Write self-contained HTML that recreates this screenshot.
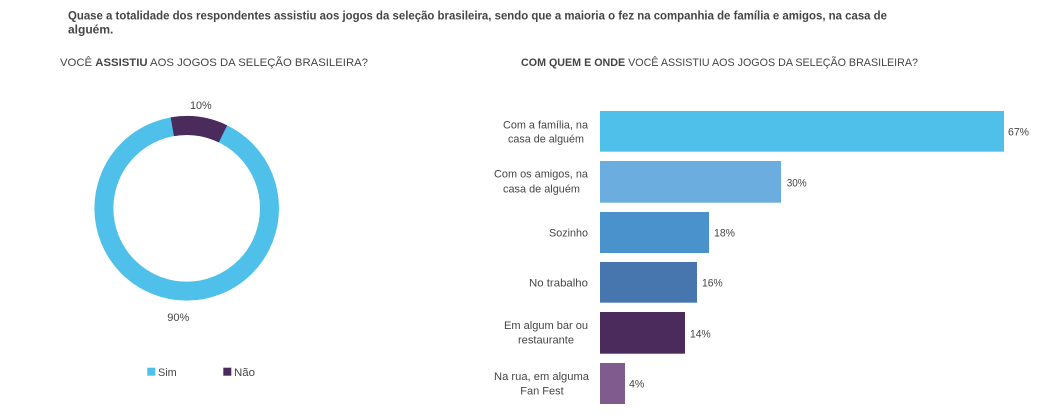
<!DOCTYPE html>
<html>
<head>
<meta charset="utf-8">
<style>
html,body{margin:0;padding:0;background:#fff;}
svg{display:block;}
text{font-family:"Liberation Sans",Arial,sans-serif;fill:#454545;}
</style>
</head>
<body>
<svg width="1045" height="420" viewBox="0 0 1045 420" xmlns="http://www.w3.org/2000/svg">
  <!-- Title -->
  <text x="68" y="19.5" font-size="12" font-weight="bold" fill="#555" textLength="819" lengthAdjust="spacingAndGlyphs">Quase a totalidade dos respondentes assistiu aos jogos da seleção brasileira, sendo que a maioria o fez na companhia de família e amigos, na casa de</text>
  <text x="68" y="33.5" font-size="12" font-weight="bold" fill="#555">alguém.</text>

  <!-- Subtitles -->
  <text x="60" y="66" font-size="11" fill="#555" textLength="308" lengthAdjust="spacingAndGlyphs">VOCÊ <tspan font-weight="bold">ASSISTIU</tspan> AOS JOGOS DA SELEÇÃO BRASILEIRA?</text>
  <text x="521" y="66" font-size="11" fill="#555" textLength="397" lengthAdjust="spacingAndGlyphs"><tspan font-weight="bold">COM QUEM E ONDE</tspan> VOCÊ ASSISTIU AOS JOGOS DA SELEÇÃO BRASILEIRA?</text>

  <!-- Donut -->
  <circle cx="186.7" cy="208.3" r="82.8" fill="none" stroke="#4FC0EA" stroke-width="19"/>
  <path d="M172.32 126.76 A82.8 82.8 0 0 1 223.0 133.88" fill="none" stroke="#4B2A5C" stroke-width="19"/>
  <text x="190" y="109" font-size="11" textLength="21.7" lengthAdjust="spacingAndGlyphs">10%</text>
  <text x="167.3" y="321" font-size="11" textLength="22" lengthAdjust="spacingAndGlyphs">90%</text>

  <!-- Legend -->
  <rect x="147.3" y="367.7" width="8" height="8" fill="#4FC0EA"/>
  <text x="158" y="376" font-size="11" textLength="18.7" lengthAdjust="spacingAndGlyphs">Sim</text>
  <rect x="223.3" y="367.7" width="8" height="8" fill="#4B2A5C"/>
  <text x="234" y="376" font-size="11" textLength="21" lengthAdjust="spacingAndGlyphs">Não</text>

  <!-- Bars -->
  <rect x="600" y="111" width="404" height="40.7" fill="#4FC0EA"/>
  <rect x="600" y="161" width="181" height="41.7" fill="#6AADDE"/>
  <rect x="600" y="212" width="109" height="41" fill="#4A92CC"/>
  <rect x="600" y="262" width="97" height="40.7" fill="#4676AD"/>
  <rect x="600" y="312" width="85" height="41.7" fill="#4B2A5C"/>
  <rect x="600" y="363" width="25" height="41" fill="#7F5B8E"/>

  <!-- Bar values -->
  <text x="1008" y="135.7" font-size="11" textLength="21" lengthAdjust="spacingAndGlyphs">67%</text>
  <text x="786.7" y="186.5" font-size="11" textLength="20" lengthAdjust="spacingAndGlyphs">30%</text>
  <text x="714" y="236.5" font-size="11" textLength="21" lengthAdjust="spacingAndGlyphs">18%</text>
  <text x="702" y="286.5" font-size="11" textLength="20.7" lengthAdjust="spacingAndGlyphs">16%</text>
  <text x="690" y="337.7" font-size="11" textLength="20.7" lengthAdjust="spacingAndGlyphs">14%</text>
  <text x="629" y="387.7" font-size="11" textLength="15.3" lengthAdjust="spacingAndGlyphs">4%</text>

  <!-- Category labels -->
  <text x="503" y="128.3" font-size="11" textLength="85" lengthAdjust="spacingAndGlyphs">Com a família, na</text>
  <text x="508" y="142.5" font-size="11" textLength="76" lengthAdjust="spacingAndGlyphs">casa de alguém</text>

  <text x="494" y="177.3" font-size="11" textLength="94" lengthAdjust="spacingAndGlyphs">Com os amigos, na</text>
  <text x="503" y="192.3" font-size="11" textLength="77" lengthAdjust="spacingAndGlyphs">casa de alguém</text>

  <text x="549" y="236.5" font-size="11" textLength="39" lengthAdjust="spacingAndGlyphs">Sozinho</text>

  <text x="529" y="286.3" font-size="11" textLength="59" lengthAdjust="spacingAndGlyphs">No trabalho</text>

  <text x="504" y="329" font-size="11" textLength="84" lengthAdjust="spacingAndGlyphs">Em algum bar ou</text>
  <text x="518" y="343.3" font-size="11" textLength="56" lengthAdjust="spacingAndGlyphs">restaurante</text>

  <text x="494" y="380" font-size="11" textLength="95" lengthAdjust="spacingAndGlyphs">Na rua, em alguma</text>
  <text x="542" y="394.3" font-size="11" text-anchor="middle">Fan Fest</text>
</svg>
</body>
</html>
